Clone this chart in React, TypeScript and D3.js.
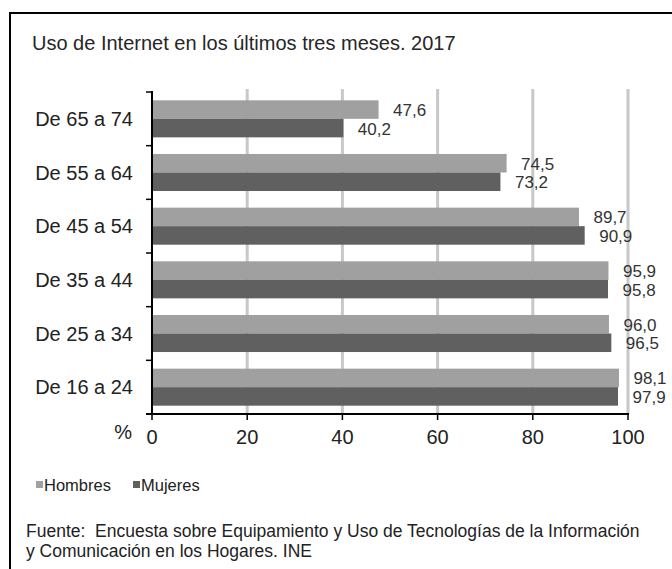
import React from "react";
import * as d3 from "d3";

const categories = ["De 65 a 74", "De 55 a 64", "De 45 a 54", "De 35 a 44", "De 25 a 34", "De 16 a 24"];
const hombres = [47.6, 74.5, 89.7, 95.9, 96.0, 98.1];
const mujeres = [40.2, 73.2, 90.9, 95.8, 96.5, 97.9];
const seriesNames = ["Hombres", "Mujeres"];
const xTicks = [0, 20, 40, 60, 80, 100];
const title = "Uso de Internet en los últimos tres meses. 2017";
const sourceLines = [
  "Fuente:  Encuesta sobre Equipamiento y Uso de Tecnologías de la Información",
  "y Comunicación en los Hogares. INE",
];

const W = 672;
const H = 569;
const FONT = "'Liberation Sans', Arial, sans-serif";
const colors = ["#a0a0a0", "#606060"];

export default function App() {
  const x = d3.scaleLinear().domain([0, 100]).range([152, 628]);
  const y = d3
    .scaleBand<string>()
    .domain(categories)
    .range([92, 414])
    .paddingInner(0.31)
    .paddingOuter(0.155);
  const inner = d3.scaleBand<string>().domain(seriesNames).range([0, y.bandwidth()]);
  const step = y.step();
  const boundaries = d3.range(categories.length + 1).map((i) => 92 + i * step);
  const series = [hombres, mujeres];
  const fmt = (v: number) => d3.format(".1f")(v).replace(".", ",");

  return (
    <svg
      width={W}
      height={H}
      style={{ position: "absolute", left: 0, top: 0, background: "#fff" }}
      fontFamily={FONT}
    >
      <rect x={0} y={0} width={W} height={H} fill="#fff" />
      <rect x={10} y={13} width={W + 20} height={H + 20} fill="none" stroke="#000" strokeWidth={2} />
      <text x={32} y={50} fontSize={20} fill="#262626">{title}</text>

      {xTicks.slice(1).map((t) => (
        <line key={"g" + t} x1={x(t)} x2={x(t)} y1={89} y2={414} stroke="#c8c8c8" strokeWidth={3} />
      ))}

      {categories.map((c, i) =>
        series.map((s, j) => (
          <rect
            key={c + j}
            x={x(0)}
            y={(y(c) as number) + (inner(seriesNames[j]) as number)}
            width={x(s[i]) - x(0)}
            height={inner.bandwidth()}
            fill={colors[j]}
          />
        ))
      )}

      {categories.map((c, i) =>
        series.map((s, j) => (
          <text
            key={"l" + c + j}
            x={x(s[i]) + 14.5}
            y={(y(c) as number) + (inner(seriesNames[j]) as number) + inner.bandwidth() / 2 + 6.5}
            fontSize={17}
            fill="#333"
          >
            {fmt(s[i])}
          </text>
        ))
      )}

      <line x1={152} x2={152} y1={91} y2={415} stroke="#000" strokeWidth={2} />
      {boundaries.map((b, i) => (
        <line key={"yt" + i} x1={146} x2={152} y1={b} y2={b} stroke="#000" strokeWidth={1.5} />
      ))}
      <line x1={146} x2={629} y1={414} y2={414} stroke="#000" strokeWidth={2} />
      {xTicks.map((t) => (
        <line key={"xt" + t} x1={x(t)} x2={x(t)} y1={414} y2={420} stroke="#000" strokeWidth={1.5} />
      ))}

      {categories.map((c) => (
        <text
          key={"c" + c}
          x={133}
          y={(y(c) as number) + y.bandwidth() / 2 + 7}
          fontSize={20}
          textAnchor="end"
          fill="#222"
        >
          {c}
        </text>
      ))}

      {xTicks.map((t) => (
        <text key={"xl" + t} x={x(t)} y={444} fontSize={20} textAnchor="middle" fill="#222">
          {t}
        </text>
      ))}
      <text x={132} y={439} fontSize={20} textAnchor="end" fill="#222">%</text>

      {seriesNames.map((n, j) => (
        <g key={"lg" + n} transform={`translate(${j === 0 ? 36 : 133},0)`}>
          <rect x={0} y={481} width={7} height={7} fill={colors[j]} />
          <text x={8} y={491} fontSize={16.5} fill="#222">{n}</text>
        </g>
      ))}

      {sourceLines.map((l, i) => (
        <text
          key={"s" + i}
          x={26}
          y={537 + i * 20}
          fontSize={17.5}
          fill="#222"
          style={{ whiteSpace: "pre" }}
        >
          {l}
        </text>
      ))}
    </svg>
  );
}
